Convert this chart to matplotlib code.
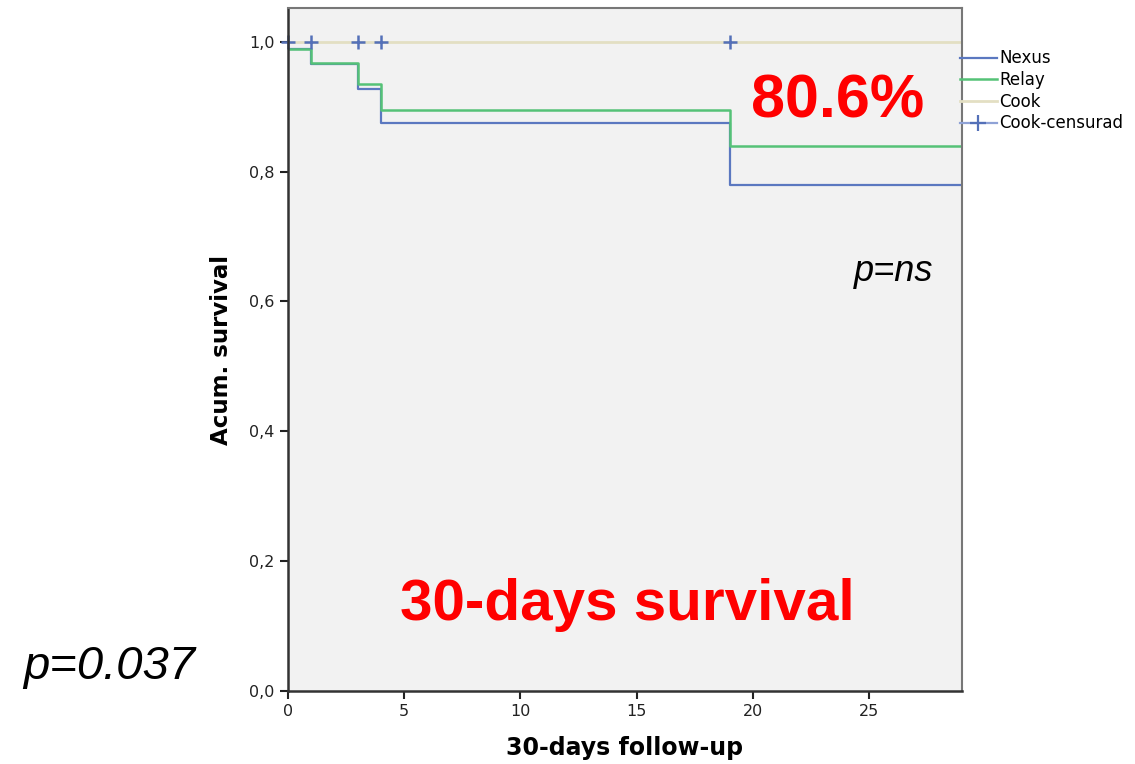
import matplotlib
matplotlib.use("Agg")
import matplotlib.pyplot as plt
from matplotlib.lines import Line2D
from matplotlib.ticker import FuncFormatter

# Kaplan-Meier step data (time of step, survival after step)
nexus_t = [0, 1, 3, 4, 19, 29]
nexus_s = [0.989, 0.966, 0.928, 0.875, 0.780, 0.780]
relay_t = [0, 1, 3, 4, 19, 29]
relay_s = [0.989, 0.968, 0.935, 0.895, 0.840, 0.840]
cook_t = [0, 29]
cook_s = [1.0, 1.0]
censored_t = [0, 1, 3, 4, 19]
censored_s = [1.0, 1.0, 1.0, 1.0, 1.0]

x_ticks = [0, 5, 10, 15, 20, 25]
y_ticks = [0.0, 0.2, 0.4, 0.6, 0.8, 1.0]

blue = "#5b78c0"
green = "#55c277"
beige = "#e3dfc3"
cens_blue = "#5470b8"

fig = plt.figure(figsize=(11.35, 7.64), dpi=100)
ax = fig.add_axes([0.2537, 0.0955, 0.5938, 0.894])
ax.set_facecolor("#f2f2f2")

ax.step(nexus_t, nexus_s, where="post", color=blue, lw=1.6)
ax.step(relay_t, relay_s, where="post", color=green, lw=1.8)
ax.step(cook_t, cook_s, where="post", color=beige, lw=2.0)
ax.plot(censored_t, censored_s, ls="none", marker="+", ms=10, mew=1.8,
        color=cens_blue, clip_on=False)

ax.set_xlim(0, 29)
ax.set_ylim(0, 1.052)
ax.set_xticks(x_ticks)
ax.set_yticks(y_ticks)
ax.yaxis.set_major_formatter(FuncFormatter(lambda v, p: f"{v:.1f}".replace(".", ",")))
ax.tick_params(direction="out", length=6, width=1.5, labelsize=11.5, colors="#222222")

for side in ["left", "bottom"]:
    ax.spines[side].set_linewidth(1.8)
    ax.spines[side].set_color("#333333")
for side in ["top", "right"]:
    ax.spines[side].set_linewidth(1.5)
    ax.spines[side].set_color("#777777")

ax.set_xlabel("30-days follow-up", fontsize=17, fontweight="bold", labelpad=12)
ax.set_ylabel("Acum. survival", fontsize=16.5, fontweight="bold", labelpad=12)

handles = [
    Line2D([], [], color=blue, lw=1.6),
    Line2D([], [], color=green, lw=1.8),
    Line2D([], [], color=beige, lw=2.0),
    Line2D([], [], color="#8fa2d6", lw=1.6, marker="+", ms=12, mew=1.6,
           markeredgecolor=cens_blue),
]
labels = ["Nexus", "Relay", "Cook", "Cook-censurad"]
fig.legend(handles, labels, loc="upper left", bbox_to_anchor=(0.840, 0.944),
           frameon=False, fontsize=12, handlelength=2.2, handletextpad=0.15,
           labelspacing=0.22, borderaxespad=0)

fig.text(0.738, 0.866, "80.6%", color="#ff0000", fontsize=44, fontweight="bold",
         family="Liberation Sans", ha="center", va="center")
fig.text(0.553, 0.208, "30-days survival", color="#ff0000", fontsize=42,
         fontweight="bold", family="Liberation Sans", ha="center", va="center")
fig.text(0.787, 0.645, "p=ns", fontsize=26, style="italic", family="Liberation Sans",
         ha="center", va="center")
fig.text(0.096, 0.127, "p=0.037", fontsize=34, style="italic", family="Liberation Sans",
         ha="center", va="center")

fig.savefig("out.png", dpi=100)
